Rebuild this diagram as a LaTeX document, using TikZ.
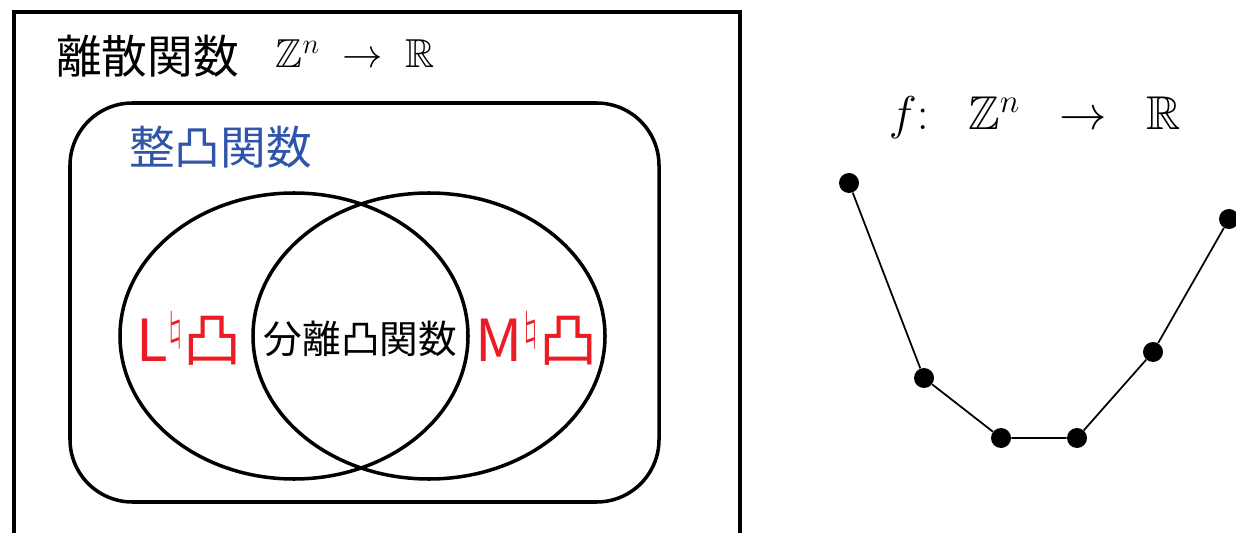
\documentclass[tikz,border=0pt]{standalone}
\usepackage{fix-cm}
\usepackage{amsmath,amssymb}
\usepackage{fontspec}
\newfontfamily\jpfont{Noto Sans CJK JP}
\definecolor{setblue}{RGB}{47,85,168}
\definecolor{setred}{RGB}{235,28,36}

\begin{document}
\begin{tikzpicture}[every node/.style={inner sep=0pt},
	venn/.style={line width=2pt},
	dot/.style={circle, fill=black, minimum size=4mm, inner sep=0pt}]
	\useasboundingbox (0,0) rectangle (24.72,-10.66);
	% sets
	\draw[venn] (0.28,-11) -- (0.28,-0.24) -- (14.80,-0.24) -- (14.80,-11);
	\draw[venn, rounded corners=1.25cm] (1.40,-2.06) rectangle (13.18,-10.04);
	\draw[venn] (5.88,-6.72) ellipse (3.48 and 2.86);
	\draw[venn] (8.58,-6.72) ellipse (3.52 and 2.86);
	\node[font=\jpfont\fontsize{26}{30}\selectfont] (discrete) at (2.95,-1.13) {離散関数};
	\node[font=\fontsize{23}{27}\selectfont, anchor=base] (discmap) at (7.10,-1.36) {$\mathbb{Z}^{n} \;\to\; \mathbb{R}$};
	\node[font=\jpfont\fontsize{26}{30}\selectfont, setblue] (intconv) at (4.41,-2.95) {整凸関数};
	\node[font=\jpfont\fontsize{33}{38}\selectfont, setred] (lnat) at (3.78,-6.77) {L$^{\natural}$凸};
	\node[font=\jpfont\fontsize{33}{38}\selectfont, setred] (mnat) at (10.73,-6.77) {M$^{\natural}$凸};
	\node[font=\jpfont\fontsize{22}{26}\selectfont] (sep) at (7.21,-6.77) {分離凸関数};
	% graph of f
	\node[font=\fontsize{27}{31}\selectfont, anchor=base] (fmap) at (20.70,-2.60) {$f{:}\;\;\; \mathbb{Z}^{n} \;\;\to\;\; \mathbb{R}$};
	\node[dot] (p1) at (16.98,-3.66) {};
	\node[dot] (p2) at (18.48,-7.56) {};
	\node[dot] (p3) at (20.02,-8.76) {};
	\node[dot] (p4) at (21.54,-8.76) {};
	\node[dot] (p5) at (23.06,-7.04) {};
	\node[dot] (p6) at (24.58,-4.38) {};
	\draw[line width=1pt] (p1) -- (p2) -- (p3) -- (p4) -- (p5) -- (p6);
\end{tikzpicture}
\end{document}
